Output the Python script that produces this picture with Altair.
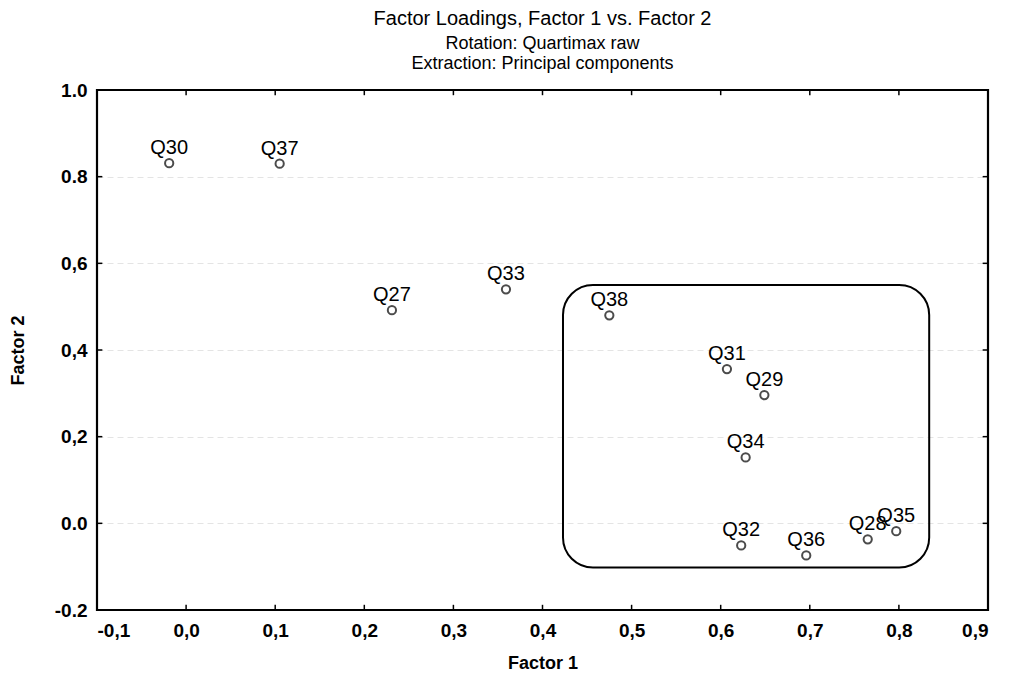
import altair as alt
import pandas as pd

# ---- data ----
names = ["Q30", "Q37", "Q27", "Q33", "Q38", "Q31", "Q29", "Q34", "Q32", "Q36", "Q28", "Q35"]
factor1 = [-0.019, 0.105, 0.231, 0.359, 0.475, 0.607, 0.649, 0.628, 0.623, 0.696, 0.765, 0.797]
factor2 = [0.831, 0.830, 0.492, 0.540, 0.480, 0.356, 0.296, 0.152, -0.051, -0.074, -0.037, -0.018]

x_ticks = [-0.1, 0.0, 0.1, 0.2, 0.3, 0.4, 0.5, 0.6, 0.7, 0.8, 0.9]
x_tick_labels = ["-0,1", "0,0", "0,1", "0,2", "0,3", "0,4", "0,5", "0,6", "0,7", "0,8", "0,9"]
y_ticks = [-0.2, 0.0, 0.2, 0.4, 0.6, 0.8, 1.0]
y_tick_labels = ["-0.2", "0.0", "0,2", "0,4", "0,6", "0.8", "1.0"]

# highlighted cluster box (data coordinates)
box_x = [0.423, 0.834]
box_y = [-0.102, 0.550]

x_domain = [-0.1, 0.9]
y_domain = [-0.2, 1.0]

FONT = "Liberation Sans"

points = pd.DataFrame({"name": names, "f1": factor1, "f2": factor2})
box = pd.DataFrame({"x0": [box_x[0]], "x1": [box_x[1]], "y0": [box_y[0]], "y1": [box_y[1]]})
frame = pd.DataFrame({"x0": [x_domain[0]], "x1": [x_domain[1]], "y0": [y_domain[0]], "y1": [y_domain[1]]})


def label_expr(vals, labels):
    parts = []
    for v, l in zip(vals, labels):
        parts.append(f"abs(datum.value - ({v})) < 1e-6 ? '{l}'")
    return " : ".join(parts) + " : ''"


xs = alt.Scale(domain=x_domain, nice=False, zero=False)
ys = alt.Scale(domain=y_domain, nice=False, zero=False)

x_axis = alt.Axis(
    values=x_ticks, labelExpr=label_expr(x_ticks, x_tick_labels), title="Factor 1",
    domain=False, ticks=False, grid=False, labelFont=FONT, labelFontSize=19,
    labelFontWeight="bold", labelColor="black", labelPadding=11, titleFont=FONT,
    titleFontSize=18, titleFontWeight="bold", titleColor="black", titlePadding=14,
)
y_axis = alt.Axis(
    values=y_ticks, labelExpr=label_expr(y_ticks, y_tick_labels), title="Factor 2",
    domain=False, ticks=False, grid=True, gridColor="#e4e4e4", gridDash=[6, 4],
    labelFont=FONT, labelFontSize=19, labelFontWeight="bold", labelColor="black",
    labelPadding=10, titleFont=FONT, titleFontSize=18, titleFontWeight="bold",
    titleColor="black", titlePadding=27,
)

base = alt.Chart(points)

pts = base.mark_point(shape="circle", filled=False, size=68, color="black", strokeWidth=2).encode(
    x=alt.X("f1:Q", scale=xs, axis=x_axis),
    y=alt.Y("f2:Q", scale=ys, axis=y_axis),
)

labels = base.mark_text(font=FONT, fontSize=20, color="black", dy=-9, baseline="alphabetic", align="center").encode(
    x=alt.X("f1:Q", scale=xs),
    y=alt.Y("f2:Q", scale=ys),
    text="name:N",
)

rect = alt.Chart(box).mark_rect(fill=None, stroke="black", strokeWidth=2, cornerRadius=30).encode(
    x=alt.X("x0:Q", scale=xs), x2="x1:Q",
    y=alt.Y("y0:Q", scale=ys), y2="y1:Q",
)

border = alt.Chart(frame).mark_rect(fill=None, stroke="black", strokeWidth=2.2).encode(
    x=alt.X("x0:Q", scale=xs), x2="x1:Q",
    y=alt.Y("y0:Q", scale=ys), y2="y1:Q",
)

# inward ticks on all four sides
tx = pd.DataFrame({"v": x_ticks})
ty = pd.DataFrame({"v": y_ticks})
tick_len_y = 0.012
tick_len_x = 0.006
bottom_ticks = alt.Chart(tx).mark_rule(color="black", strokeWidth=1.5).encode(
    x=alt.X("v:Q", scale=xs), y=alt.Y("y0:Q", scale=ys), y2="y1:Q"
).transform_calculate(y0=str(y_domain[0]), y1=str(y_domain[0] + tick_len_y))
top_ticks = alt.Chart(tx).mark_rule(color="black", strokeWidth=1.5).encode(
    x=alt.X("v:Q", scale=xs), y=alt.Y("y0:Q", scale=ys), y2="y1:Q"
).transform_calculate(y0=str(y_domain[1]), y1=str(y_domain[1] - tick_len_y))
left_ticks = alt.Chart(ty).mark_rule(color="black", strokeWidth=1.5).encode(
    y=alt.Y("v:Q", scale=ys), x=alt.X("x0:Q", scale=xs), x2="x1:Q"
).transform_calculate(x0=str(x_domain[0]), x1=str(x_domain[0] + tick_len_x))
right_ticks = alt.Chart(ty).mark_rule(color="black", strokeWidth=1.5).encode(
    y=alt.Y("v:Q", scale=ys), x=alt.X("x0:Q", scale=xs), x2="x1:Q"
).transform_calculate(x0=str(x_domain[1]), x1=str(x_domain[1] - tick_len_x))

chart = alt.layer(border, rect, bottom_ticks, top_ticks, left_ticks, right_ticks, pts, labels).properties(
    width=891, height=520,
    title=alt.TitleParams(
        text="Factor Loadings, Factor 1 vs. Factor 2",
        subtitle=["Rotation: Quartimax raw", "Extraction: Principal components"],
        font=FONT, fontSize=20, fontWeight="normal", color="black",
        subtitleFont=FONT, subtitleFontSize=18, subtitleColor="black", subtitlePadding=6,
        subtitleLineHeight=20, anchor="middle", offset=8,
    ),
    autosize=alt.AutoSizeParams(type="none"),
    padding={"left": 89, "top": 82, "right": 20, "bottom": 64},
).configure_view(stroke=None).configure(background="white")

chart.save("out.html", embed_options={"renderer": "svg", "actions": False})
